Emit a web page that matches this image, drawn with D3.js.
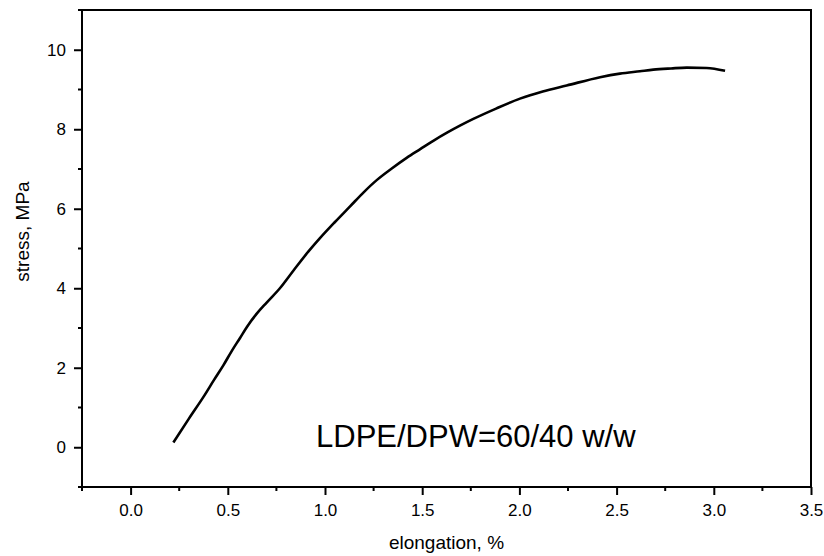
<!DOCTYPE html>
<html>
<head>
<meta charset="utf-8">
<script src="https://cdn.jsdelivr.net/npm/d3@7"></script>
<style>
  html, body { margin: 0; padding: 0; background: #fff; }
  svg { display: block; font-family: "Liberation Sans", Arial, sans-serif; }
</style>
</head>
<body>
<svg id="chart" width="824" height="556"></svg>
<script>
const elongation = [0.22, 0.30, 0.374, 0.43, 0.477, 0.52, 0.563, 0.60, 0.649, 0.70, 0.768, 0.84, 0.914, 0.974, 1.05, 1.129, 1.20, 1.266, 1.34, 1.42, 1.49, 1.557, 1.63, 1.694, 1.763, 1.88, 2.003, 2.12, 2.243, 2.415, 2.517, 2.62, 2.689, 2.78, 2.861, 2.963, 3.058];
const stress = [0.12, 0.72, 1.26, 1.7, 2.06, 2.42, 2.75, 3.04, 3.36, 3.64, 4.0, 4.46, 4.92, 5.26, 5.66, 6.06, 6.42, 6.72, 7.0, 7.28, 7.5, 7.71, 7.92, 8.09, 8.26, 8.52, 8.77, 8.95, 9.1, 9.31, 9.4, 9.46, 9.5, 9.53, 9.55, 9.54, 9.47];
const xTicks = [0.0, 0.5, 1.0, 1.5, 2.0, 2.5, 3.0, 3.5];
const yTicks = [0, 2, 4, 6, 8, 10];
const xTitle = "elongation, %";
const yTitle = "stress, MPa";
const note = "LDPE/DPW=60/40 w/w";

const svg = d3.select("#chart");
const L = 82, R = 811, T = 10, B = 487;
const x = d3.scaleLinear().domain([-0.25, 3.5]).range([L, R]);
const y = d3.scaleLinear().domain([-1, 11]).range([B, T]);

// frame
svg.append("rect").attr("x", L).attr("y", T).attr("width", R - L).attr("height", B - T)
  .attr("fill", "none").attr("stroke", "#000").attr("stroke-width", 2);

// x axis
const xMinor = d3.range(-0.25, 3.51, 0.25).filter(v => Math.abs(v * 2 - Math.round(v * 2)) > 1e-6);
const gx = svg.append("g").attr("transform", `translate(0,${B})`);
gx.call(d3.axisBottom(x).tickValues(xTicks).tickFormat(d3.format(".1f")).tickSize(8).tickPadding(9))
  .call(g => g.select(".domain").remove());
gx.selectAll(".tick line").attr("stroke-width", 2);
gx.selectAll(".tick text").attr("font-size", 17).attr("font-family", "Liberation Sans, Arial, sans-serif").attr("fill", "#000");
gx.selectAll(".minor").data(xMinor).enter().append("line").attr("class", "minor")
  .attr("x1", d => x(d)).attr("x2", d => x(d)).attr("y1", 0).attr("y2", 4)
  .attr("stroke", "#000").attr("stroke-width", 2);

// y axis
const yMinor = d3.range(-1, 11.01, 1).filter(v => v % 2 !== 0);
const gy = svg.append("g").attr("transform", `translate(${L},0)`);
gy.call(d3.axisLeft(y).tickValues(yTicks).tickFormat(d3.format("d")).tickSize(8).tickPadding(8))
  .call(g => g.select(".domain").remove());
gy.selectAll(".tick line").attr("stroke-width", 2);
gy.selectAll(".tick text").attr("font-size", 17).attr("font-family", "Liberation Sans, Arial, sans-serif").attr("fill", "#000");
gy.selectAll(".minor").data(yMinor).enter().append("line").attr("class", "minor")
  .attr("y1", d => y(d)).attr("y2", d => y(d)).attr("x1", 0).attr("x2", -4)
  .attr("stroke", "#000").attr("stroke-width", 2);

// curve
const line = d3.line().x((d, i) => x(elongation[i])).y((d, i) => y(stress[i])).curve(d3.curveMonotoneX);
svg.append("path").datum(stress).attr("d", line)
  .attr("fill", "none").attr("stroke", "#000").attr("stroke-width", 2.6)
  .attr("stroke-linejoin", "round").attr("stroke-linecap", "butt");

// titles
svg.append("text").attr("x", (L + R) / 2).attr("y", 549).attr("text-anchor", "middle")
  .attr("font-size", 19).text(xTitle);
svg.append("text").attr("transform", `translate(29,${(T + B) / 2 - 17}) rotate(-90)`)
  .attr("text-anchor", "middle").attr("font-size", 19).text(yTitle);

// annotation
svg.append("text").attr("x", 316).attr("y", 447).attr("font-size", 31).text(note);
</script>
</body>
</html>
